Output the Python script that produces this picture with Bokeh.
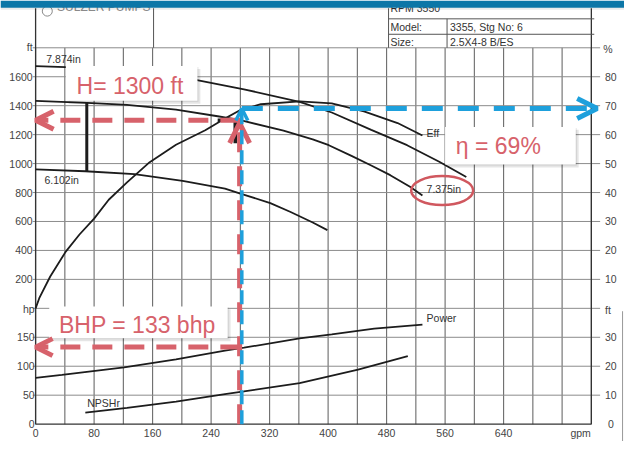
from bokeh.plotting import figure
from bokeh.models import Range1d, Arrow, OpenHead
from bokeh.core.properties import value
from bokeh.embed import file_html
from bokeh.resources import INLINE

# ---------------- data ----------------
flow_ticks = [0, 80, 160, 240, 320, 400, 480, 560, 640]
head_ticks = [200, 400, 600, 800, 1000, 1200, 1400, 1600]
power_ticks = [0, 50, 100, 150]
eff_ticks = [10, 20, 30, 40, 50, 60, 70, 80]
npsh_ticks = [0, 10, 20, 30]
grid_flow = [0, 40, 80, 120, 160, 200, 240, 280, 320, 360, 400, 440, 480, 520, 560, 600, 640, 680, 720, 760]
grid_head = [0, 200, 400, 600, 800, 1000, 1200, 1400, 1600, 1800]
grid_power = [50, 100, 150]

# impeller 7.874 in head curve (gpm, ft)
q_874 = [0, 41, 100, 160, 219, 285, 361, 405, 459, 508, 552, 589]
h_874 = [1673, 1667, 1648, 1618, 1578, 1513, 1427, 1353, 1233, 1127, 1013, 907]
# impeller 7.375 in head curve
q_7375 = [0, 70, 125, 192, 249, 280, 339, 379, 401, 432, 459, 485, 512, 529]
h_7375 = [1433, 1420, 1405, 1373, 1327, 1300, 1227, 1167, 1127, 1053, 987, 920, 840, 780]
# impeller 6.102 in head curve
q_6102 = [0, 68, 135, 201, 259, 280, 321, 348, 379, 399]
h_6102 = [960, 947, 927, 880, 827, 793, 727, 667, 593, 540]
# efficiency (%)
q_eff = [0, 5, 20, 41, 60, 80, 100, 125, 156, 192, 232, 255, 280, 308, 361, 405, 449, 495, 529]
eff = [0, 3.5, 11, 19.5, 25.5, 31, 37.5, 43.5, 50.5, 56.5, 61.5, 65, 68.5, 70.5, 71.5, 70.8, 68, 64, 59.7]
# power (hp)
q_pow = [0, 36, 121, 192, 259, 285, 361, 405, 463, 529]
power = [80, 85, 98, 112, 127, 132, 148, 155, 165, 172]
# NPSHr (ft)
q_npsh = [68, 125, 192, 259, 285, 361, 441, 509]
npsh = [4, 5.6, 7.8, 10.4, 11.3, 14.2, 18.8, 23.5]
# minimum flow line
mcsf_q = 70
mcsf_heads = [1420, 947]

# rated duty point
Q_RATED = 280
H_RATED = 1300
EFF_RATED = 69
BHP_RATED = 133

# ---------------- shared-grid scale relations ----------------
EFF_SCALE = 20.0          # head-ft per % on shared grid
HP_SCALE, HP_OFFSET = 4.0, -800.0
NPSH_SCALE, NPSH_OFFSET = 20.0, -800.0
X_LO, X_HI = -48.0, 805.33
Y_LO, Y_HI = -920.0, 2126.67
BOTTOM = HP_OFFSET        # hp = 0 level in head units
TOP_GRID = 1800
FRAME_TOP = 2073
X_RIGHT = 760

RED = "#d7626b"
BLUE = "#1ea0dc"
INK = "#1c1c1c"
LABEL = "#444444"
FONT = value("Liberation Sans")

p = figure(width=624, height=441, x_range=Range1d(X_LO, X_HI), y_range=Range1d(Y_LO, Y_HI),
           output_backend="svg", toolbar_location=None, min_border=0,
           x_axis_type=None, y_axis_type=None)
p.outline_line_color = None
p.background_fill_color = "white"
p.border_fill_color = "white"
p.extra_y_ranges = {
    "eff": Range1d(Y_LO / EFF_SCALE, Y_HI / EFF_SCALE),
    "hp": Range1d((Y_LO - HP_OFFSET) / HP_SCALE, (Y_HI - HP_OFFSET) / HP_SCALE),
    "npsh": Range1d((Y_LO - NPSH_OFFSET) / NPSH_SCALE, (Y_HI - NPSH_OFFSET) / NPSH_SCALE),
    "py": Range1d(457, 0),
}
p.extra_x_ranges = {"px": Range1d(0, 640)}


def txt(x, y, s, size="10.5px", color=LABEL, align="left", baseline="middle", xr=None, yr=None):
    kw = {}
    if xr:
        kw["x_range_name"] = xr
    if yr:
        kw["y_range_name"] = yr
    p.text(x=list(x), y=list(y), text=list(s), text_font=FONT, text_font_size=value(size),
           text_color=color, text_align=align, text_baseline=baseline, **kw)


# ---------------- grid ----------------
n = len(grid_flow)
p.segment(x0=grid_flow, y0=[TOP_GRID] * n, x1=grid_flow, y1=[BOTTOM] * n,
          line_color="#6a6a6a", line_width=1.1)
m = len(grid_head)
p.segment(x0=[-4] * m, y0=grid_head, x1=[772] * m, y1=grid_head, line_color="#8c8c8c", line_width=1)
k = len(grid_power)
p.segment(x0=[-4] * k, y0=grid_power, x1=[772] * k, y1=grid_power, line_color="#8c8c8c",
          line_width=1, y_range_name="hp")
# axes frame
p.segment(x0=[0, X_RIGHT, 0], y0=[BOTTOM, BOTTOM, BOTTOM], x1=[0, X_RIGHT, X_RIGHT],
          y1=[FRAME_TOP, FRAME_TOP, BOTTOM], line_color="#333333", line_width=1.3)

# ---------------- header block ----------------
p.segment(x0=[157, 398, 458, 398, 398], y0=[8, 8, 19, 19, 35], x1=[157, 398, 458, 609, 609],
          y1=[49, 49, 49, 19, 35], line_color="#555555", line_width=1,
          x_range_name="px", y_range_name="py")
p.segment(x0=[638], y0=[322], x1=[638], y1=[457], line_color="#999999", line_width=1,
          x_range_name="px", y_range_name="py")
txt([58], [7], ["SULZER PUMPS"], size="12px", color="#8a8a8a", xr="px", yr="py")
p.circle(x=[48], y=[11], radius=5, radius_units="screen", fill_color=None, line_color="#8a8a8a",
         x_range_name="px", y_range_name="py")
txt([400], [8], ["RPM  3550"], color="#333333", xr="px", yr="py")
txt([400, 400], [27.5, 42.5], ["Model:", "Size:"], color="#333333", xr="px", yr="py")
txt([461, 461], [27.5, 42.5], ["3355, Stg No: 6", "2.5X4-8 B/ES"], color="#333333", xr="px", yr="py")
# top banner
p.quad(left=[0], right=[640], top=[0], bottom=[7.5], fill_color="#0c76a7", line_color=None,
       x_range_name="px", y_range_name="py")
p.quad(left=[0], right=[640], top=[7.5], bottom=[9.5], fill_color="#000000", fill_alpha=0.08,
       line_color=None, x_range_name="px", y_range_name="py")

# ---------------- tick labels ----------------
txt([33] * len(head_ticks), head_ticks, [str(t) for t in head_ticks], align="right", xr="px")
txt([35] * len(power_ticks), power_ticks, [str(t) for t in power_ticks], align="right", xr="px", yr="hp")
txt([626] * len(eff_ticks), eff_ticks, [str(t) for t in eff_ticks], align="center", xr="px", yr="eff")
txt([626] * len(npsh_ticks), npsh_ticks, [str(t) for t in npsh_ticks], align="center", xr="px", yr="npsh")
txt(flow_ticks, [448] * len(flow_ticks), [str(t) for t in flow_ticks], align="center", yr="py")
txt([33, 35], [48, 320], ["ft", "hp"], align="right", xr="px", yr="py")
txt([623, 623, 595], [50, 321, 448], ["%", "ft", "gpm"], align="center", xr="px", yr="py")

# ---------------- curves ----------------
p.line(q_874, h_874, line_color=INK, line_width=1.8)
p.line(q_7375, h_7375, line_color=INK, line_width=1.8)
p.line(q_6102, h_6102, line_color=INK, line_width=1.8)
p.line(q_eff, eff, line_color=INK, line_width=1.8, y_range_name="eff")
p.line(q_pow, power, line_color=INK, line_width=1.8, y_range_name="hp")
p.line(q_npsh, npsh, line_color=INK, line_width=1.8, y_range_name="npsh")
p.segment(x0=[mcsf_q], y0=[mcsf_heads[0]], x1=[mcsf_q], y1=[mcsf_heads[1]], line_color=INK, line_width=3)
p.line([Q_RATED - 31, Q_RATED - 7, Q_RATED - 7], [H_RATED, H_RATED, H_RATED - 160],
       line_color=INK, line_width=3.5)

# curve labels
txt([47, 45], [61, 186], ["7.874in", "6.102in"], color="#333333", xr="px", yr="py")
txt([437, 437, 437], [195, 137, 329], ["7.375in", "Eff", "Power"], color="#333333", xr="px", yr="py")
txt([89], [417], ["NPSHr"], color="#333333", xr="px", yr="py")

# highlight ellipse
p.ellipse(x=[453], y=[197], width=62, height=29, width_units="screen", height_units="screen",
          fill_color=None, line_color="#d0585f", line_width=2.5, x_range_name="px", y_range_name="py")

# ---------------- callout boxes ----------------
boxes = [(67, 202, 68, 104), (456, 590, 131, 170), (50, 233, 317, 350)]
for (l, r, t, b) in boxes:
    p.quad(left=[l + 3], right=[r + 3], top=[t + 3], bottom=[b + 3], fill_color="#000000",
           fill_alpha=0.10, line_color=None, x_range_name="px", y_range_name="py")
    p.quad(left=[l + 1], right=[r + 1], top=[t + 1], bottom=[b + 1], fill_color="#000000",
           fill_alpha=0.10, line_color=None, x_range_name="px", y_range_name="py")
    p.quad(left=[l], right=[r], top=[t], bottom=[b], fill_color="white", line_color=None,
           x_range_name="px", y_range_name="py")
txt([78], [88.5], ["H= %d ft" % H_RATED], size="23px", color=RED, xr="px", yr="py")
txt([467], [151], ["\u03b7 = %d%%" % EFF_RATED], size="23px", color=RED, xr="px", yr="py")
txt([60], [336], ["BHP = %d bhp" % BHP_RATED], size="23px", color=RED, xr="px", yr="py")

# ---------------- read-off arrows ----------------
def arrow(x0, y0, x1, y1, color, lw, dash, size, yr="default"):
    a = Arrow(end=OpenHead(size=size, line_color=color, line_width=lw),
              x_start=x0, y_start=y0, x_end=x1, y_end=y1,
              line_color=color, line_width=lw, line_dash=dash, y_range_name=yr)
    p.add_layout(a)

arrow(Q_RATED, H_RATED, 0, H_RATED, RED, 5, "20 12", 18)
arrow(Q_RATED, BHP_RATED, 0, BHP_RATED, RED, 5, "20 12", 17, yr="hp")
arrow(Q_RATED - 1, BOTTOM, Q_RATED - 1, H_RATED - 20, RED, 5, "20 14", 20)
arrow(Q_RATED + 2, BOTTOM / EFF_SCALE, Q_RATED + 2, EFF_RATED, BLUE, 3.5, "14 6", 12, yr="eff")
arrow(Q_RATED + 2, EFF_RATED, 768, EFF_RATED, BLUE, 5, "21 15", 20, yr="eff")

open("out.html", "w").write(file_html(p, INLINE))
